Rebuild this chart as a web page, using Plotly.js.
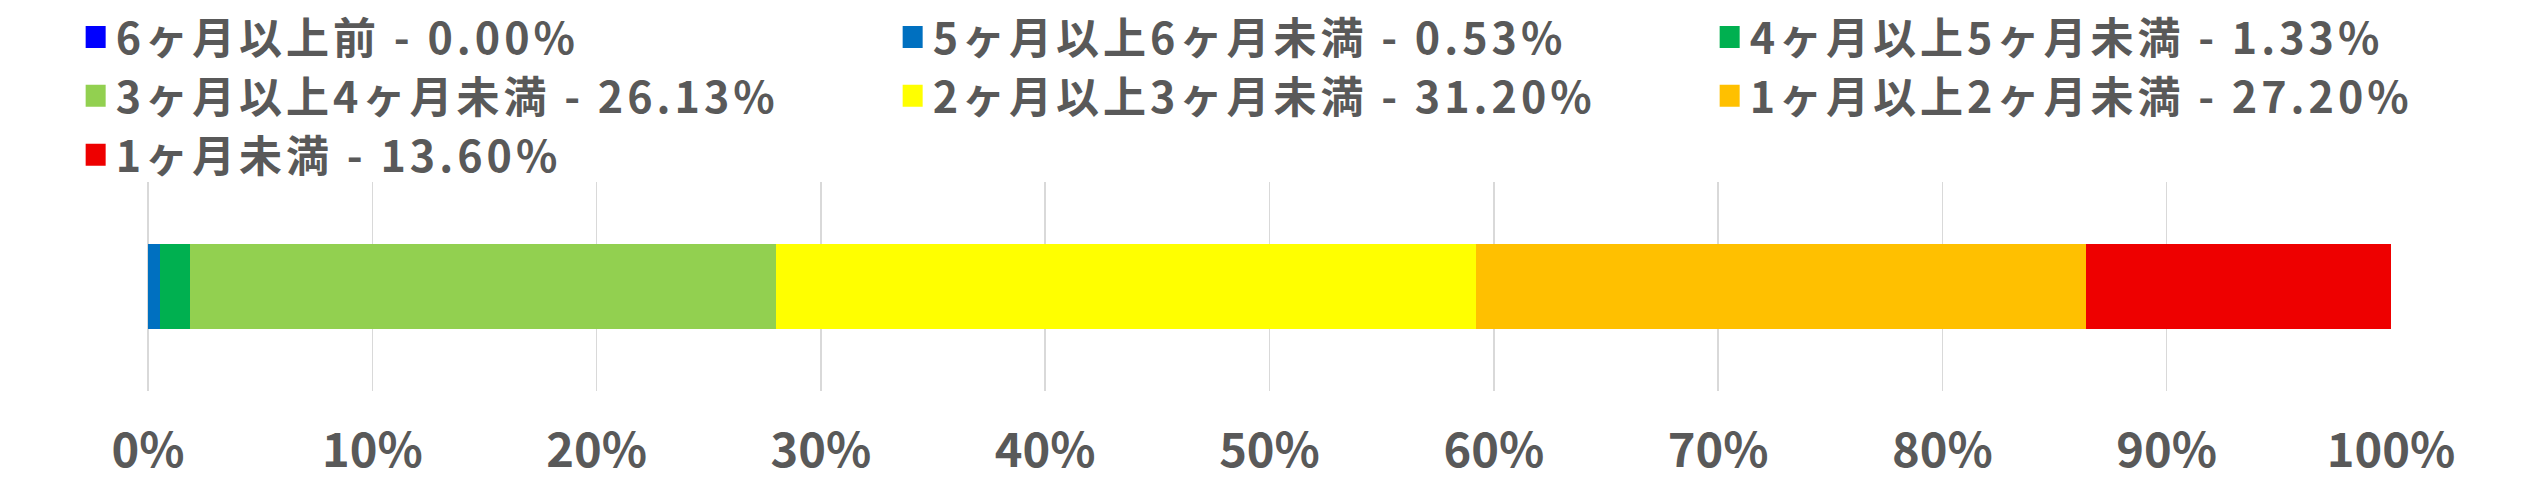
<!DOCTYPE html>
<html>
<head>
<meta charset="utf-8">
<script src="https://cdn.plot.ly/plotly-3.0.1.min.js"></script>
<style>
  html, body { margin: 0; padding: 0; background: #fff; }
  #chart { width: 2522px; height: 501px; }
  /* the reference legend font is spaced wider than Noto */
  #chart .legendtext { letter-spacing: 4px; }
</style>
</head>
<body>
<div id="chart"></div>
<script>
// data
var categories = ['6ヶ月以上前', '5ヶ月以上6ヶ月未満', '4ヶ月以上5ヶ月未満', '3ヶ月以上4ヶ月未満',
                  '2ヶ月以上3ヶ月未満', '1ヶ月以上2ヶ月未満', '1ヶ月未満'];
var shares = [0.00, 0.53, 1.33, 26.13, 31.20, 27.20, 13.60];   // percent
var colors = ['#0000FF', '#0070C0', '#00B050', '#92D050', '#FFFF00', '#FFC000', '#EE0000'];
var row = [''];

var FONT = '"Noto Sans CJK JP", "Noto Sans", sans-serif';
var GREY = '#595959';

var data = [];
for (var i = 0; i < categories.length; i++) {
  data.push({
    type: 'bar',
    orientation: 'h',
    x: [shares[i] / 100],
    y: row,
    name: categories[i] + ' - ' + shares[i].toFixed(2) + '%',
    marker: {color: colors[i], line: {width: 0}},
    hoverinfo: 'skip'
  });
}

// no side margins so the legend may use the full width for three columns;
// the axis domain puts the bars where the reference has them (148..2391 px)
var layout = {
  width: 2522,
  height: 501,
  barmode: 'stack',
  bargap: 0.59,
  margin: {l: 0, r: 0, t: 182, b: 110, autoexpand: false},
  paper_bgcolor: '#fff',
  plot_bgcolor: 'rgba(0,0,0,0)',
  font: {family: FONT, color: GREY, size: 44, weight: 'bold'},
  showlegend: true,
  legend: {
    orientation: 'h',
    xref: 'paper',
    yref: 'container',
    x: 0.03,
    y: 0.995,
    xanchor: 'left',
    yanchor: 'top',
    traceorder: 'normal',
    itemwidth: 30,
    entrywidth: 772,
    entrywidthmode: 'pixels',
    itemclick: false,
    font: {family: FONT, color: GREY, size: 43, weight: 'bold'},
    bgcolor: 'rgba(0,0,0,0)'
  },
  xaxis: {
    domain: [148 / 2522, 2391 / 2522],
    range: [0, 1],
    dtick: 0.1,
    tickformat: '.0%',
    showgrid: true,
    gridcolor: '#D9D9D9',
    gridwidth: 1.5,
    zeroline: true,
    zerolinecolor: '#D9D9D9',
    zerolinewidth: 1.5,
    showline: false,
    ticks: '',
    ticklabelstandoff: 28,
    tickfont: {family: FONT, color: GREY, size: 47, weight: 'bold'},
    fixedrange: true
  },
  yaxis: {
    showticklabels: false,
    showgrid: false,
    zeroline: false,
    showline: false,
    fixedrange: true
  },
  hovermode: false
};

Plotly.newPlot('chart', data, layout, {displayModeBar: false, staticPlot: true}).then(function () {
  // legend squares are fixed at 12px in plotly, the reference uses bigger ones
  document.querySelectorAll('#chart .legendpoints path').forEach(function (p) {
    p.setAttribute('d', 'M10,11H-10V-11H10Z');
    p.style.strokeWidth = '0';
  });
});
</script>
</body>
</html>
